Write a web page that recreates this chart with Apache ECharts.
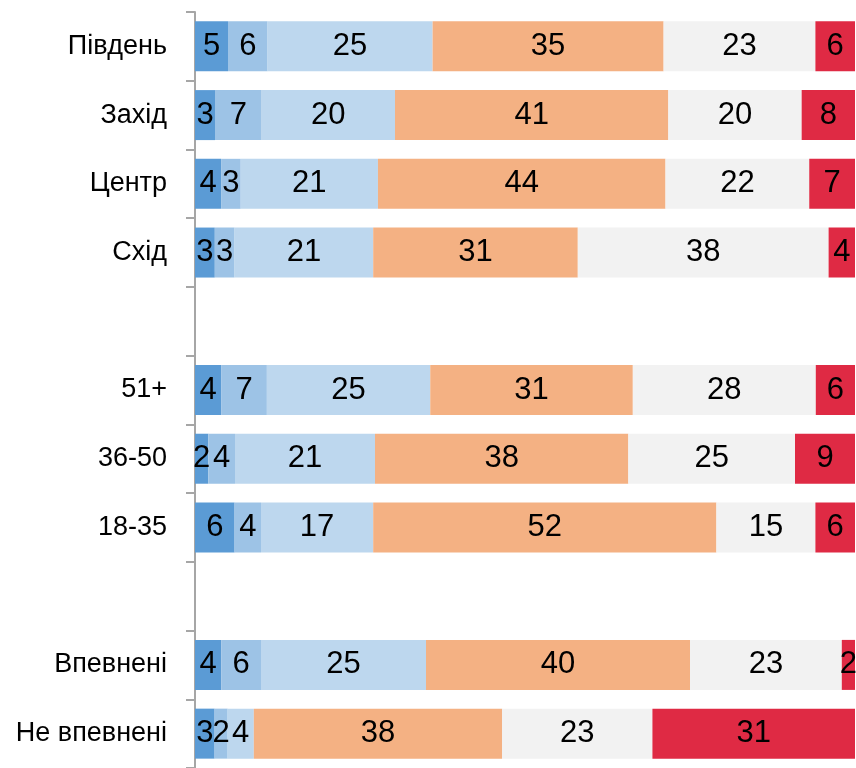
<!DOCTYPE html>
<html>
<head>
<meta charset="utf-8">
<script src="https://cdn.jsdelivr.net/npm/echarts@6/dist/echarts.min.js"></script>
<style>
  html, body { margin: 0; padding: 0; background: #fff; }
  #chart { width: 856px; height: 768px; }
</style>
</head>
<body>
<div id="chart"></div>
<script>
// категорії (порожні рядки - розриви між групами)
var categories = ['Південь', 'Захід', 'Центр', 'Схід', '', '51+', '36-50', '18-35', '', 'Впевнені', 'Не впевнені'];

// значення по сегментах, зліва направо
var definitelyYes = [5, 3, 4, 3, null, 4, 2, 6, null, 4, 3];
var ratherYes     = [6, 7, 3, 3, null, 7, 4, 4, null, 6, 2];
var partlyYes     = [25, 20, 21, 21, null, 25, 21, 17, null, 25, 4];
var ratherNo      = [35, 41, 44, 31, null, 31, 38, 52, null, 40, 38];
var definitelyNo  = [23, 20, 22, 38, null, 28, 25, 15, null, 23, 23];
var hardToSay     = [6, 8, 7, 4, null, 6, 9, 6, null, 2, 31];

var seriesList = [
    { name: 'Точно так', data: definitelyYes, color: '#5B9BD5' },
    { name: 'Скоріше так', data: ratherYes, color: '#9DC3E6' },
    { name: 'Частково', data: partlyYes, color: '#BDD7EE' },
    { name: 'Скоріше ні', data: ratherNo, color: '#F4B183' },
    { name: 'Точно ні', data: definitelyNo, color: '#F2F2F2' },
    { name: 'Важко сказати', data: hardToSay, color: '#DF2A44' }
];

// суми рядків для 100% накопичення
var rowSums = categories.map(function(c, i) {
    var s = 0;
    seriesList.forEach(function(item) { s += item.data[i] || 0; });
    return s;
});

var fontFamily = '"Liberation Sans Narrow", "Arial Narrow", "Liberation Sans", Arial, sans-serif';

var chart = echarts.init(document.getElementById('chart'));

var option = {
    animation: false,
    grid: { left: 195, right: 1, top: 12, bottom: -6 },
    xAxis: {
        type: 'value',
        min: 0,
        max: 100,
        show: false
    },
    yAxis: {
        type: 'category',
        data: categories,
        inverse: true,
        axisLine: { show: true, lineStyle: { color: '#A6A6A6', width: 2 } },
        axisTick: { show: true, length: 9, lineStyle: { color: '#A6A6A6', width: 2 } },
        axisLabel: {
            margin: 28,
            color: '#000',
            fontFamily: fontFamily,
            fontSize: 27
        },
        splitLine: { show: false }
    },
    series: seriesList.map(function(item) {
        return {
            name: item.name,
            type: 'bar',
            stack: 'total',
            barWidth: 50,
            itemStyle: { color: item.color },
            label: {
                show: true,
                position: 'inside',
                color: '#000',
                fontFamily: fontFamily,
                fontSize: 31,
                formatter: function(p) { return p.data.raw; }
            },
            data: item.data.map(function(v, i) {
                if (v === null) return null;
                return { value: v / rowSums[i] * 100, raw: v };
            })
        };
    })
};

chart.setOption(option);
</script>
</body>
</html>
